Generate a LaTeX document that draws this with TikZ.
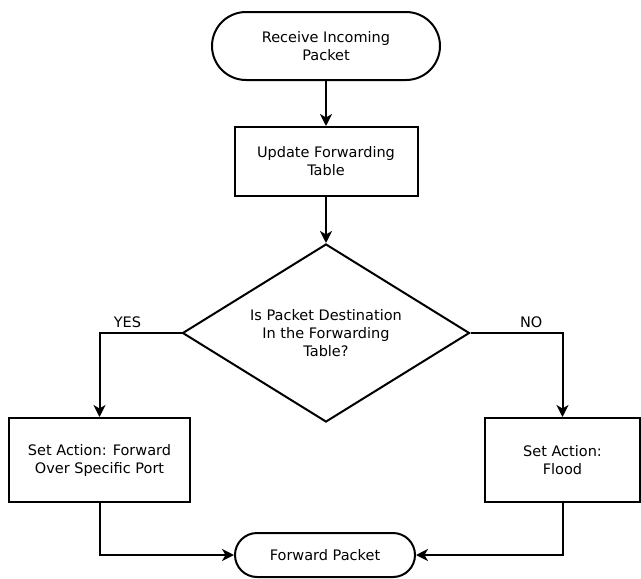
\documentclass[tikz,border=0pt]{standalone}
\usepackage{fontspec}
\setmainfont{DejaVu Sans}
\usetikzlibrary{arrows.meta,positioning,shapes.geometric}

\begin{document}
\begin{tikzpicture}[x=1pt,y=-1pt,line width=2pt,node distance=45pt,
  >={Stealth[length=12pt,width=12pt,inset=3.5pt]},
  every node/.style={font=\fontsize{14.5}{18}\selectfont,align=center},
  term/.style={draw,rectangle,rounded corners=#1,inner sep=0pt},
  box/.style={draw,rectangle,inner sep=0pt},
  decide/.style={draw,diamond,shape aspect=1.61,inner sep=0pt,minimum width=287pt,minimum height=178pt}]

  \useasboundingbox (0,0) rectangle (641,579);

  \node[term=34pt,minimum width=228pt,minimum height=68pt] (recv) at (326,46) {Receive Incoming\\Packet};
  \node[box,minimum width=183pt,minimum height=69pt] (upd) [below=of recv] {Update Forwarding\\Table};
  \node[decide] (dec) [below=46pt of upd] {Is Packet Destination\\In the Forwarding\\Table?};
  \node[box,minimum width=181pt,minimum height=84pt] (port) at (99.5,460) {Set Action: Forward\\Over Specific Port};
  \node[box,minimum width=155pt,minimum height=84pt] (flood) at (562.5,460) {Set Action:\\Flood};
  \node[term=22pt,minimum width=180pt,minimum height=44pt] (fwd) at (325,555) {Forward Packet};

  \draw[->] (recv) -- (upd);
  \draw[->] (upd) -- (dec);
  \draw[->] (dec.west) -| node[above=1pt,pos=0.33] {YES} (port.north);
  \draw[->] (dec.east) -| node[above=1pt,pos=0.33] {NO} (flood.north);
  \draw[->] (port.south) |- (fwd.west);
  \draw[->] (flood.south) |- (fwd.east);

\end{tikzpicture}
\end{document}
